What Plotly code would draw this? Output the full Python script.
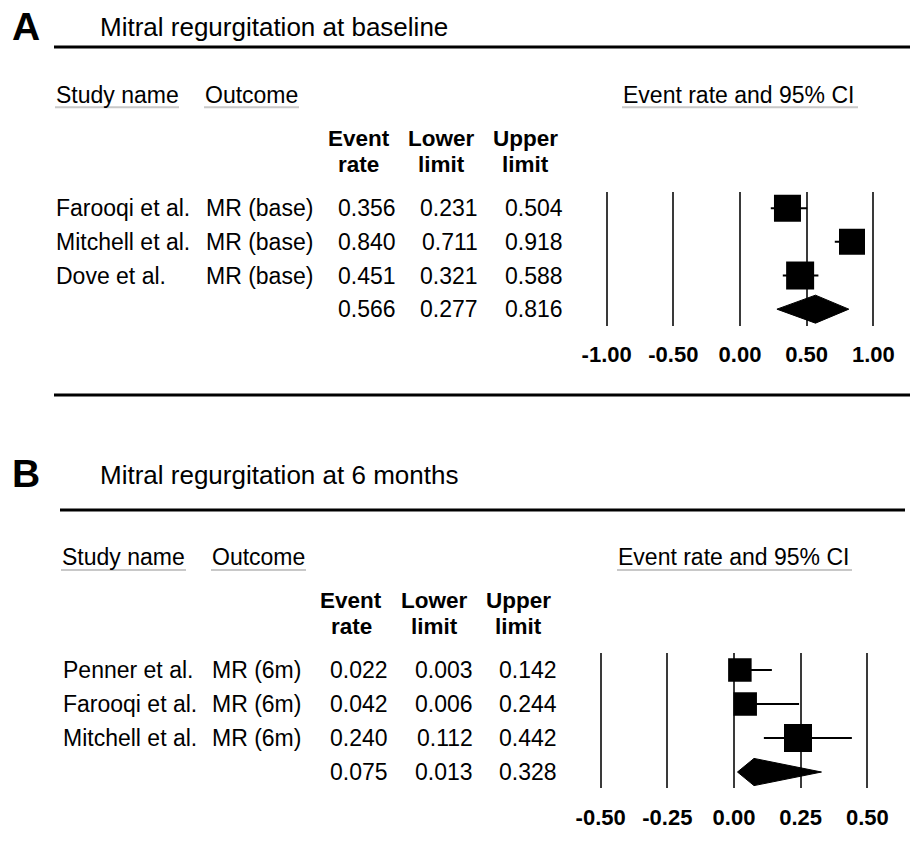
import plotly.graph_objects as go

W, H = 910, 855
FONT = "Liberation Sans, Arial, Helvetica, sans-serif"

# ---------------- data ----------------
studies_A = ["Farooqi et al.", "Mitchell et al.", "Dove et al."]
outcome_A = ["MR (base)", "MR (base)", "MR (base)"]
rate_A = [0.356, 0.840, 0.451]
lower_A = [0.231, 0.711, 0.321]
upper_A = [0.504, 0.918, 0.588]
summary_A = [0.566, 0.277, 0.816]  # event rate, lower, upper
ticks_A = [-1.0, -0.5, 0.0, 0.5, 1.0]
ticklabels_A = ["-1.00", "-0.50", "0.00", "0.50", "1.00"]

studies_B = ["Penner et al.", "Farooqi et al.", "Mitchell et al."]
outcome_B = ["MR (6m)", "MR (6m)", "MR (6m)"]
rate_B = [0.022, 0.042, 0.240]
lower_B = [0.003, 0.006, 0.112]
upper_B = [0.142, 0.244, 0.442]
summary_B = [0.075, 0.013, 0.328]
ticks_B = [-0.5, -0.25, 0.0, 0.25, 0.5]
ticklabels_B = ["-0.50", "-0.25", "0.00", "0.25", "0.50"]

titles = ["Mitral regurgitation at baseline", "Mitral regurgitation at 6 months"]
letters = ["A", "B"]
col_headers = [("Event", "rate"), ("Lower", "limit"), ("Upper", "limit")]

# ---------------- layout / style (pixels) ----------------
panels = [
    dict(letter=letters[0], title=titles[0], studies=studies_A, outcome=outcome_A,
         rate=rate_A, lower=lower_A, upper=upper_A, summary=summary_A,
         ticks=ticks_A, ticklabels=ticklabels_A,
         xdom=(580, 900), xrange=(-1.2, 1.2), ydom=(191.7, 326), yrange=(3.5, -0.49),
         ticklen=9, sq=[27, 26, 28], dhalf=0.416,
         name_x=55, out_x=205, val_r=[396.5, 479, 563.5], hdr_c=[358.8, 441.7, 525.5],
         hdr_y=[138, 164.7], letter_y=26, title_y=27, sub_y=94.5, under_y=107.3,
         under=[(55, 179), (204, 299), (622, 858)], sub_x=[55, 204, 622],
         rules=[(47, 54, 910), (395, 54, 910)]),
    dict(letter=letters[1], title=titles[1], studies=studies_B, outcome=outcome_B,
         rate=rate_B, lower=lower_B, upper=upper_B, summary=summary_B,
         ticks=ticks_B, ticklabels=ticklabels_B,
         xdom=(574, 894), xrange=(-0.6, 0.6), ydom=(653, 788), yrange=(3.47, -0.5),
         ticklen=10, sq=[23.5, 23.5, 28], dhalf=0.40,
         name_x=62, out_x=211, val_r=[389, 473.5, 557.5], hdr_c=[351.2, 434.7, 518.8],
         hdr_y=[600.3, 626], letter_y=474, title_y=475, sub_y=556.8, under_y=570,
         under=[(61, 186), (211, 306), (617, 852)], sub_x=[61, 211, 617],
         rules=[(510, 60, 905)]),
]


def fx(px):
    return px / W


def fy(py):
    return 1 - py / H


fig = go.Figure()
annotations = []
shapes = []
layout_axes = {}

for i, p in enumerate(panels):
    n = "" if i == 0 else str(i + 1)
    xa, ya = "x" + n, "y" + n
    # study squares with CI whiskers
    err_plus = [u - r for u, r in zip(p["upper"], p["rate"])]
    err_minus = [r - l for r, l in zip(p["rate"], p["lower"])]
    rows = list(range(len(p["rate"])))
    fig.add_trace(go.Scatter(
        x=p["rate"], y=rows, mode="markers", xaxis=xa, yaxis=ya,
        marker=dict(symbol="square", size=p["sq"], color="black", opacity=1,
                    line=dict(width=0)),
        error_x=dict(type="data", symmetric=False, array=err_plus, arrayminus=err_minus,
                     color="black", thickness=2, width=0),
        showlegend=False, hoverinfo="skip"))
    # summary diamond
    est, lo, hi = p["summary"]
    sr = len(p["rate"])
    h = p["dhalf"]
    fig.add_trace(go.Scatter(
        x=[lo, est, hi, est, lo], y=[sr, sr - h, sr, sr + h, sr],
        mode="lines", fill="toself", fillcolor="black",
        line=dict(color="black", width=1), xaxis=xa, yaxis=ya,
        showlegend=False, hoverinfo="skip"))

    layout_axes["xaxis" + n] = dict(
        domain=[fx(p["xdom"][0]), fx(p["xdom"][1])], range=list(p["xrange"]),
        anchor=ya, tickmode="array", tickvals=p["ticks"], ticktext=p["ticklabels"],
        showgrid=True, gridcolor="#3a3a3a", gridwidth=1.5, zeroline=False,
        showline=False, ticks="outside", ticklen=p["ticklen"],
        tickcolor="rgba(0,0,0,0)",
        tickfont=dict(family=FONT, size=22, color="black", weight="bold"),
        fixedrange=True)
    layout_axes["yaxis" + n] = dict(
        domain=[fy(p["ydom"][1]), fy(p["ydom"][0])], range=list(p["yrange"]),
        anchor=xa, visible=False, showgrid=False, zeroline=False, fixedrange=True)

    # letter + title
    annotations.append(dict(text=p["letter"], x=fx(25.8), y=fy(p["letter_y"]),
                            xref="paper", yref="paper", xanchor="center", yanchor="middle",
                            showarrow=False, borderpad=0,
                            font=dict(family=FONT, size=39, color="black", weight="bold")))
    annotations.append(dict(text=p["title"], x=fx(99), y=fy(p["title_y"]),
                            xref="paper", yref="paper", xanchor="left", yanchor="middle",
                            showarrow=False, borderpad=0,
                            font=dict(family=FONT, size=26, color="black")))
    # sub headers
    for txt, sx in zip(["Study name", "Outcome", "Event rate and 95% CI"], p["sub_x"]):
        annotations.append(dict(text=txt, x=fx(sx), y=fy(p["sub_y"]),
                                xref="paper", yref="paper", xanchor="left", yanchor="middle",
                                showarrow=False, borderpad=0,
                                font=dict(family=FONT, size=23, color="black")))
    for (u0, u1) in p["under"]:
        shapes.append(dict(type="line", xref="paper", yref="paper",
                           x0=fx(u0), x1=fx(u1), y0=fy(p["under_y"]), y1=fy(p["under_y"]),
                           line=dict(color="#c8c8c8", width=2)))
    # column headers
    for (l1, l2), cx in zip(col_headers, p["hdr_c"]):
        for txt, hy in zip([l1, l2], p["hdr_y"]):
            annotations.append(dict(text=txt, x=fx(cx), y=fy(hy),
                                    xref="paper", yref="paper", xanchor="center",
                                    yanchor="middle", showarrow=False, borderpad=0,
                                    font=dict(family=FONT, size=22.5, color="black",
                                              weight="bold")))
    # table rows
    cols = [p["rate"] + [est], p["lower"] + [lo], p["upper"] + [hi]]
    for r in range(sr + 1):
        if r < sr:
            annotations.append(dict(text=p["studies"][r], x=fx(p["name_x"]), y=r,
                                    xref="paper", yref=ya, xanchor="left", yanchor="middle",
                                    showarrow=False, borderpad=0,
                                    font=dict(family=FONT, size=23, color="black")))
            annotations.append(dict(text=p["outcome"][r], x=fx(p["out_x"]), y=r,
                                    xref="paper", yref=ya, xanchor="left", yanchor="middle",
                                    showarrow=False, borderpad=0,
                                    font=dict(family=FONT, size=23, color="black")))
        for c, rx in zip(cols, p["val_r"]):
            annotations.append(dict(text=f"{c[r]:.3f}", x=fx(rx), y=r,
                                    xref="paper", yref=ya, xanchor="right", yanchor="middle",
                                    showarrow=False, borderpad=0,
                                    font=dict(family=FONT, size=23, color="black")))
    # rules
    for (ry, rx0, rx1) in p["rules"]:
        shapes.append(dict(type="line", xref="paper", yref="paper",
                           x0=fx(rx0), x1=fx(rx1), y0=fy(ry), y1=fy(ry),
                           line=dict(color="black", width=3)))

fig.update_layout(
    width=W, height=H, margin=dict(l=0, r=0, t=0, b=0),
    paper_bgcolor="white", plot_bgcolor="white",
    font=dict(family=FONT, color="black"),
    showlegend=False, annotations=annotations, shapes=shapes,
    **layout_axes)

fig.write_html(
    "out.html",
    config={"displayModeBar": False},
    post_script="document.body.style.margin='0px';document.body.style.overflow='hidden';",
)
